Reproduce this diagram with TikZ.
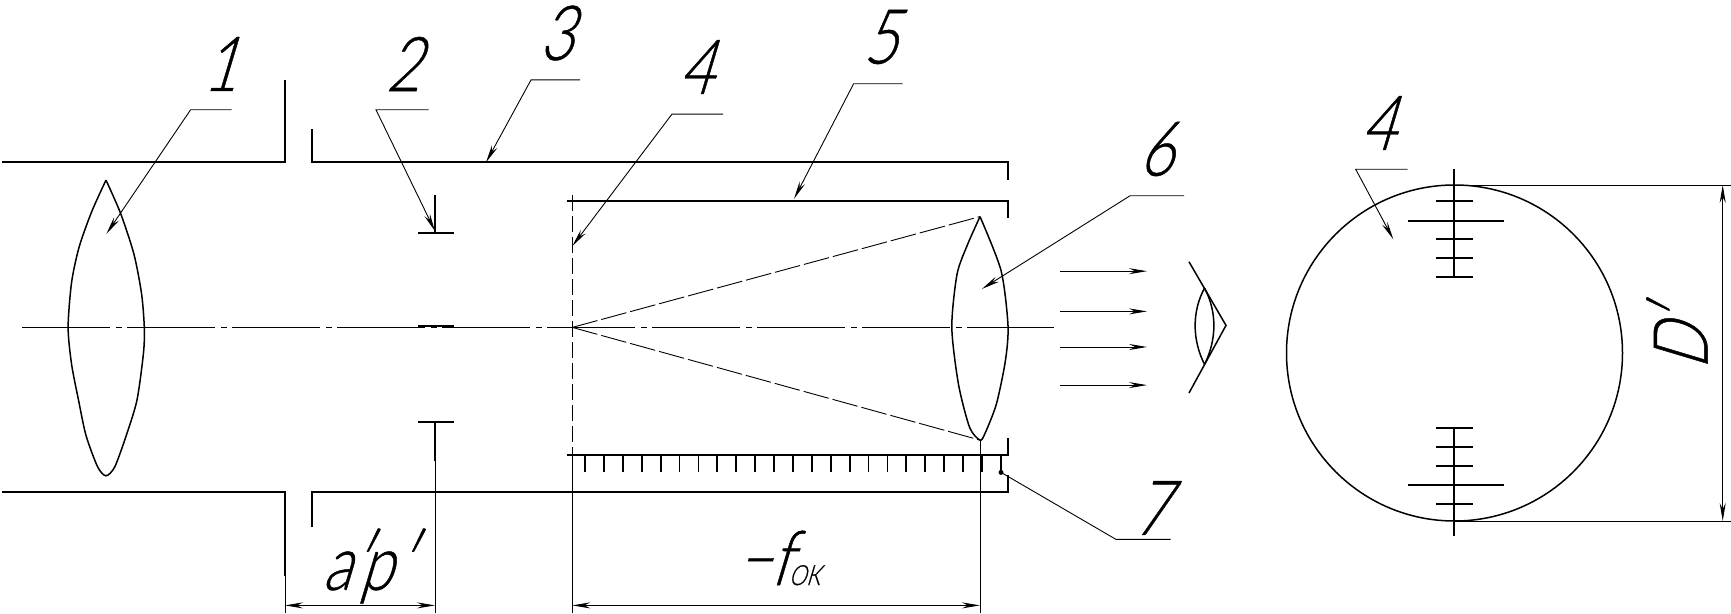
\documentclass[tikz,border=0pt]{standalone}
\usepackage{fontspec}
\usetikzlibrary{arrows.meta}
\newfontfamily\gost[FakeSlant=0.3,FakeStretch=0.78,FakeBold=0.6]{Lato Light}
\tikzset{
  heavy/.style={line width=0.9pt,line join=miter},
  medium/.style={line width=0.75pt},
  hair/.style={line width=0.45pt},
  tip/.style={-{Stealth[length=9pt,width=3pt,inset=3pt]}},
  both/.style={{Stealth[length=9pt,width=3pt,inset=3pt]}-{Stealth[length=9pt,width=3pt,inset=3pt]}},
  axis/.style={hair,dash pattern=on 44pt off 3pt on 3pt off 2.5pt},
  rays/.style={hair,dash pattern=on 13pt off 2pt},
  lbl/.style={font=\gost\fontsize{38}{38}\selectfont,inner sep=0pt,anchor=center}
}
\begin{document}
\begin{tikzpicture}[x=0.5pt,y=-0.5pt]
\useasboundingbox (0,0) rectangle (1731,614);
\begin{scope}[yshift=0.3pt]
% tube
\draw[heavy] (2,163) -- (285,163) -- (285,80.5);
\draw[heavy] (312,130) -- (312,163) -- (1008,163) -- (1008,181);
\draw[heavy] (2,493) -- (285,493) -- (285,577);
\draw[heavy] (312,528) -- (312,493) -- (1008,493) -- (1008,476);
% inner tube
\draw[heavy] (566.5,201.5) -- (1008,201.5) -- (1008,219);
\draw[heavy] (566.5,455.6) -- (1008,455.6) -- (1008,439);
\draw[medium,dash pattern=on 8pt off 2.5pt] (572.3,196) -- (572.3,455.6);
\foreach \i in {0,...,22}{\draw[heavy] ({585+18.9*\i},455.6) -- ({585+18.9*\i},473);}
% axis
\draw[axis] (22,328) -- (1054,328);
% lens 1
\draw[medium] plot[smooth,tension=.45] coordinates {(106,180.7)(120.6,214)(134,255)(141.6,294.6)(144.3,328)(143.5,353.5)(137,400.6)(126.3,436)(114.8,467.4)(106,476.4)(97.6,467.4)(86,436)(78.5,400.6)(71.6,365)(68.1,328)(71.6,282.8)(79.2,247.4)(91.8,212)(106,180.7)};
% lens 6
\draw[medium] plot[smooth,tension=.45] coordinates {(980,217.2)(1001,271)(1008,326)(1005.4,361.3)(996.4,404.6)(985,434)(980,440.7)(969.6,428)(958.5,385)(951.8,328)(957,275)(967.4,245.5)(980,217.2)};
% field stop
\draw[heavy] (418,233.7) -- (453.5,233.7);
\draw[medium] (435,196) -- (435,233.7);
\draw[line width=1pt] (418,327) -- (453.5,327);
\draw[heavy] (418,423) -- (453.5,423);
\draw[medium] (435,423) -- (435,461.5);
% rays
\draw[rays] (572.3,328) -- (980,217.2);
\draw[rays] (572.3,328) -- (980,440.7);
% parallel beam
\foreach \y in {271.8,312,347.6,385.7}{\draw[hair,tip] (1060,\y) -- (1147,\y);}
% eye
\draw[medium] (1189,262.4) -- (1226,326) -- (1189,393.6);
\draw[medium] (1204.5,288.7) .. controls (1192,312) and (1192,340) .. (1204.5,365);
\draw[medium] (1204.5,288.7) .. controls (1217,312) and (1217,340) .. (1204.5,365);
% dimensions
\draw[hair] (285,577) -- (285,614);
\draw[hair] (435,461.5) -- (435,614);
\draw[hair] (572.3,455.6) -- (572.3,614);
\draw[hair] (980,440.7) -- (980,614);
\draw[hair,both] (285,606) -- (435,606);
\draw[hair,both] (572.3,606) -- (980,606);
% leaders
\draw[hair,tip] (231.5,110.4) -- (190.6,110.4) -- (106.4,234.5);
\draw[hair,tip] (428.6,110.4) -- (376,110.4) -- (435,231.7);
\draw[hair,tip] (580,80.5) -- (531,80.5) -- (486,163);
\draw[hair,tip] (723,114.7) -- (672,114.7) -- (572.3,246.7);
\draw[hair,tip] (902.7,84.4) -- (853.6,84.4) -- (794,199.5);
\draw[hair,tip] (1184,196.4) -- (1130,196.4) -- (982,289.5);
\draw[hair] (1170.5,540) -- (1116,540) -- (1001,473);
\fill (1001,473) circle (2.5);
\end{scope}
% reticle view
\draw[medium] (1454.5,353) circle (168);
\draw[heavy] (1453.7,169.3) -- (1453.7,276.7);
\foreach \y in {200.7,239,258,277}{\draw[heavy] (1436.3,\y) -- (1473,\y);}
\draw[heavy] (1408,221) -- (1503.7,221);
\draw[heavy] (1453.7,427.7) -- (1453.7,535.7);
\foreach \y in {427.7,446.7,465.7,503.7}{\draw[heavy] (1436.3,\y) -- (1473,\y);}
\draw[heavy] (1408,484.7) -- (1503.7,484.7);
\draw[hair,tip] (1407.7,169.3) -- (1355.7,169.3) -- (1393.3,239.3);
\draw[hair] (1454,185) -- (1731,185);
\draw[hair] (1454,521) -- (1731,521);
\draw[hair,both] (1722.7,185) -- (1722.7,521);
% labels
\node[lbl] (n1) at (220,64) {1};
\node[lbl] (n2) at (403,64) {2};
\node[lbl] (n3) at (556,33) {3};
\node[lbl] (n4) at (696,67) {4};
\node[lbl] (n5) at (880,37) {5};
\node[lbl] (n6) at (1156,149) {6};
\node[lbl] (n7) at (1151,508) {7};
\node[lbl] (n4b) at (1378,123) {4};
\node[lbl] (ap) at (367.5,566) {a\kern-1pt′\kern-4pt p\kern1pt′};
\node[lbl] (f) at (778,558) {−f\kern-1pt\fontsize{14}{14}\selectfont ОК};
\node[lbl,rotate=90] (dd) at (1677,340) {D\kern-2pt′};
\end{tikzpicture}
\end{document}
